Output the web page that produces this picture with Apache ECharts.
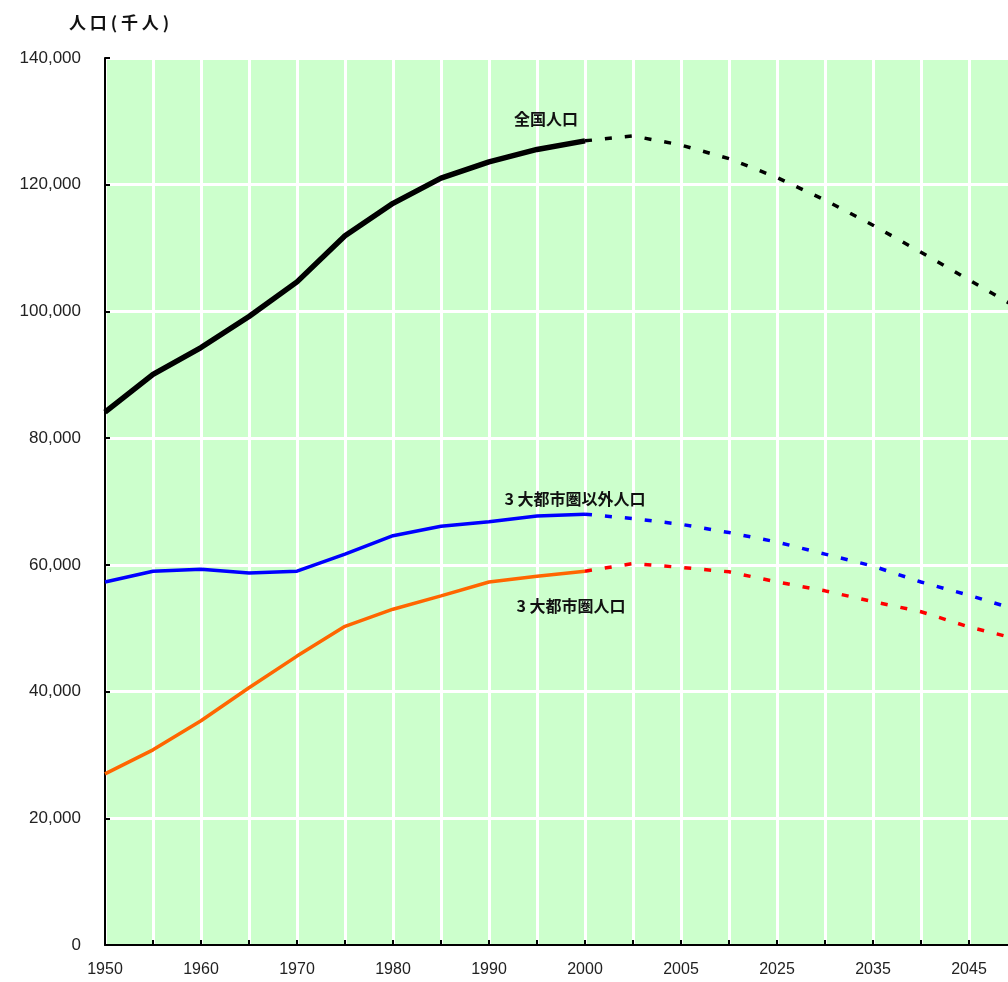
<!DOCTYPE html>
<html>
<head>
<meta charset="utf-8">
<script src="https://cdn.jsdelivr.net/npm/echarts@6/dist/echarts.min.js"></script>
<style>
html,body{margin:0;padding:0;overflow:hidden;background:#fff;}
#c{width:1020px;height:982px;}
</style>
</head>
<body>
<div id="c"></div>
<script>
// Categories (years) and displayed tick labels
var years = ['1950','1955','1960','1965','1970','1975','1980','1985','1990','1995','2000',
             '2010','2015','2020','2025','2030','2035','2040','2045','2050'];
var tickLabels = ['1950','','1960','','1970','','1980','','1990','','2000',
                  '','2005','','2025','','2035','','2045',''];
var yTicks = [0, 20000, 40000, 60000, 80000, 100000, 120000, 140000];

// Actual values (thousand persons), 1950-2000
var national = [84115, 90077, 94302, 99209, 104665, 111940, 117060, 121049, 123611, 125570, 126926];
var nonMetro = [57300, 59000, 59300, 58700, 59000, 61700, 64600, 66100, 66800, 67700, 68000];
var metro    = [27000, 30800, 35400, 40600, 45600, 50300, 53000, 55100, 57300, 58200, 59000];

// Projections, from 2000 onward
var nationalProj = [126926, 127700, 126266, 124107, 121136, 117580, 113602, 109338, 104960, 100593];
var nonMetroProj = [68000, 67300, 66400, 65100, 63600, 61700, 59800, 57300, 55200, 52900];
var metroProj    = [59000, 60200, 59600, 58900, 57300, 55900, 54200, 52600, 50200, 48300];

function padActual(arr){ var r = arr.slice(); while (r.length < years.length) r.push(null); return r; }
function padProj(arr){ var r = []; var start = years.length - arr.length; for (var i=0;i<start;i++) r.push(null); return r.concat(arr); }

var cjk = 'Noto Sans CJK JP';
var dash = [7, 13];
function seriesLabel(text, off){
  return {show:true, formatter:text, position:'inside', offset:off,
    fontFamily:cjk, fontWeight:'bold', fontSize:16, color:'#111'};
}

var chart = echarts.init(document.getElementById('c'));
chart.setOption({
  animation:false,
  title:{text:'人 口 ( 千 人 )', left:64, top:9,
    textStyle:{fontFamily:cjk, fontWeight:'bold', fontSize:17, color:'#111'}},
  grid:{left:105, top:58, bottom:37, right:3, show:true, backgroundColor:'#ccffcc', borderWidth:0},
  xAxis:{
    type:'category', data:years, boundaryGap:false,
    axisLine:{show:true, onZero:false, lineStyle:{color:'#000', width:2}},
    axisTick:{show:true, inside:true, length:5, interval:0, lineStyle:{color:'#000', width:2}},
    axisLabel:{interval:0, margin:17, fontFamily:'Liberation Sans', fontSize:16, color:'#222',
      formatter:function(v, i){ return tickLabels[i]; }},
    splitLine:{show:true, interval:0, lineStyle:{color:'#fff', width:3}}
  },
  yAxis:{
    type:'value', min:yTicks[0], max:yTicks[yTicks.length-1], interval:yTicks[1]-yTicks[0],
    axisLine:{show:true, lineStyle:{color:'#000', width:2}},
    axisTick:{show:true, inside:true, length:5, lineStyle:{color:'#000', width:2}},
    axisLabel:{margin:24, fontFamily:'Liberation Sans', fontSize:17, color:'#222',
      formatter:function(v){ return v.toLocaleString('en-US'); }},
    splitLine:{show:true, lineStyle:{color:'#fff', width:3}}
  },
  series:[
    {type:'line', data:padActual(national), symbol:'none', lineStyle:{color:'#000', width:5.5},
      markPoint:{symbol:'circle', symbolSize:0, data:[{coord:['1995', 130000],
        label:seriesLabel('全国人口', [9,-2])}]}},
    {type:'line', data:padProj(nationalProj), symbol:'none', lineStyle:{color:'#000', width:3.5, type:dash}},
    {type:'line', data:padActual(nonMetro), symbol:'none', lineStyle:{color:'#0000ff', width:3.5},
      markPoint:{symbol:'circle', symbolSize:0, data:[{coord:['1995', 70000],
        label:seriesLabel('3 大都市圏以外人口', [38,-2.5])}]}},
    {type:'line', data:padProj(nonMetroProj), symbol:'none', lineStyle:{color:'#0000ff', width:3.5, type:dash}},
    {type:'line', data:padActual(metro), symbol:'none', lineStyle:{color:'#ff6600', width:3.5},
      markPoint:{symbol:'circle', symbolSize:0, data:[{coord:['1995', 54000],
        label:seriesLabel('3 大都市圏人口', [34,2.6])}]}},
    {type:'line', data:padProj(metroProj), symbol:'none', lineStyle:{color:'#ff0000', width:3.5, type:dash}}
  ]
});
</script>
</body>
</html>
